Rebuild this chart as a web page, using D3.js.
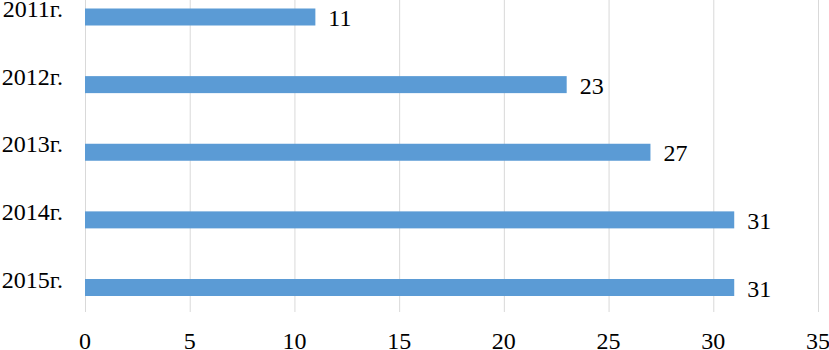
<!DOCTYPE html>
<html>
<head>
<meta charset="utf-8">
<script src="https://cdn.jsdelivr.net/npm/d3@7.9.0/dist/d3.min.js"></script>
<style>
  html, body { margin: 0; padding: 0; background: #fff; }
  svg { display: block; }
</style>
</head>
<body>
<svg id="chart" width="829" height="350"></svg>
<script>
// data
const years = ["2011г.", "2012г.", "2013г.", "2014г.", "2015г."];
const values = [11, 23, 27, 31, 31];
const xTicks = [0, 5, 10, 15, 20, 25, 30, 35];

const svg = d3.select("#chart");
const font = "'Liberation Serif', 'Times New Roman', serif";

const x = d3.scaleLinear().domain([0, 35]).range([85, 818]);
const y = d3.scalePoint().domain(years).range([17, 287.5]);
const barH = 17;
const gridBottom = 312;

// vertical gridlines
svg.append("g")
  .selectAll("line")
  .data(xTicks)
  .enter()
  .append("line")
  .attr("x1", d => x(d) + 0.5)
  .attr("x2", d => x(d) + 0.5)
  .attr("y1", 0)
  .attr("y2", gridBottom)
  .attr("stroke", "#d9d9d9")
  .attr("stroke-width", 1);

// bars
const rows = years.map((yr, i) => ({ yr, v: values[i] }));

svg.append("g")
  .selectAll("rect")
  .data(rows)
  .enter()
  .append("rect")
  .attr("x", x(0))
  .attr("y", d => y(d.yr) - barH / 2)
  .attr("width", d => x(d.v) - x(0))
  .attr("height", barH)
  .attr("fill", "#5b9bd5");

// value labels
svg.append("g")
  .selectAll("text")
  .data(rows)
  .enter()
  .append("text")
  .attr("x", d => x(d.v) + 13)
  .attr("y", d => y(d.yr) + 9)
  .attr("font-family", font)
  .attr("font-size", "24px")
  .attr("fill", "#000")
  .text(d => d.v);

// category labels
svg.append("g")
  .selectAll("text")
  .data(years)
  .enter()
  .append("text")
  .attr("x", 63)
  .attr("y", d => y(d))
  .attr("text-anchor", "end")
  .attr("font-family", font)
  .attr("font-size", "24px")
  .attr("fill", "#000")
  .text(d => d);

// x tick labels
svg.append("g")
  .selectAll("text")
  .data(xTicks)
  .enter()
  .append("text")
  .attr("x", d => x(d))
  .attr("y", 349)
  .attr("text-anchor", "middle")
  .attr("font-family", font)
  .attr("font-size", "24px")
  .attr("fill", "#000")
  .text(d => d);
</script>
</body>
</html>
